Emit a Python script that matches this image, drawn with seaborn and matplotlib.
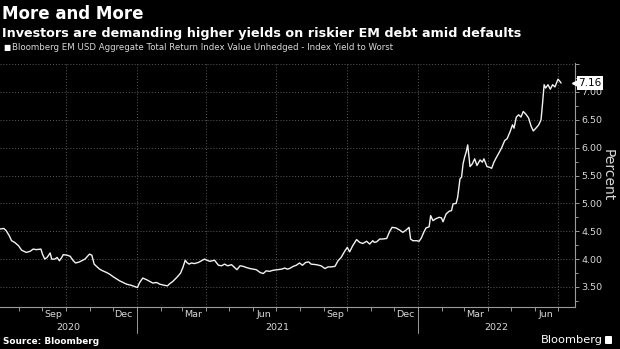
import matplotlib
matplotlib.use("Agg")
import matplotlib.pyplot as plt
import matplotlib.dates as mdates
import matplotlib.transforms as mtransforms
from matplotlib.ticker import MultipleLocator, FuncFormatter, NullFormatter
from matplotlib.patches import FancyBboxPatch
import pandas as pd
import seaborn as sns

# ---- data -----------------------------------------------------------------
dates = [
    "2020-07-08", "2020-07-13", "2020-07-16", "2020-07-20", "2020-07-23", "2020-07-27", "2020-08-01", "2020-08-05", "2020-08-11", "2020-08-16",
    "2020-08-20", "2020-08-24", "2020-08-30", "2020-09-01", "2020-09-04", "2020-09-07", "2020-09-11", "2020-09-13", "2020-09-17", "2020-09-20",
    "2020-09-23", "2020-09-26", "2020-09-28", "2020-10-03", "2020-10-07", "2020-10-11", "2020-10-14", "2020-10-19", "2020-10-26", "2020-11-01",
    "2020-11-04", "2020-11-07", "2020-11-10", "2020-11-14", "2020-11-18", "2020-11-23", "2020-11-27", "2020-12-02", "2020-12-10", "2020-12-19",
    "2020-12-25", "2020-12-31", "2021-01-02", "2021-01-05", "2021-01-09", "2021-01-14", "2021-01-18", "2021-01-22", "2021-01-27", "2021-01-31",
    "2021-02-06", "2021-02-10", "2021-02-13", "2021-02-17", "2021-02-22", "2021-02-27", "2021-03-02", "2021-03-05", "2021-03-07", "2021-03-10",
    "2021-03-13", "2021-03-17", "2021-03-22", "2021-03-26", "2021-03-30", "2021-04-02", "2021-04-06", "2021-04-12", "2021-04-17", "2021-04-21",
    "2021-04-25", "2021-04-29", "2021-05-04", "2021-05-08", "2021-05-11", "2021-05-15", "2021-05-19", "2021-05-23", "2021-05-28", "2021-06-01",
    "2021-06-05", "2021-06-10", "2021-06-14", "2021-06-18", "2021-06-22", "2021-06-27", "2021-07-02", "2021-07-08", "2021-07-12", "2021-07-15",
    "2021-07-18", "2021-07-23", "2021-07-27", "2021-07-31", "2021-08-04", "2021-08-08", "2021-08-12", "2021-08-15", "2021-08-22", "2021-08-28",
    "2021-09-02", "2021-09-06", "2021-09-10", "2021-09-15", "2021-09-19", "2021-09-23", "2021-09-28", "2021-10-01", "2021-10-04", "2021-10-08",
    "2021-10-13", "2021-10-17", "2021-10-21", "2021-10-26", "2021-10-30", "2021-11-03", "2021-11-05", "2021-11-08", "2021-11-12", "2021-11-15",
    "2021-11-21", "2021-11-25", "2021-11-28", "2021-12-03", "2021-12-08", "2021-12-12", "2021-12-16", "2021-12-20", "2021-12-22", "2021-12-25",
    "2021-12-30", "2022-01-02", "2022-01-05", "2022-01-08", "2022-01-11", "2022-01-15", "2022-01-17", "2022-01-20", "2022-01-23", "2022-01-28",
    "2022-01-31", "2022-02-02", "2022-02-06", "2022-02-10", "2022-02-13", "2022-02-15", "2022-02-19", "2022-02-21", "2022-02-24", "2022-02-26",
    "2022-02-28", "2022-03-02", "2022-03-04", "2022-03-06", "2022-03-09", "2022-03-12", "2022-03-15", "2022-03-18", "2022-03-22", "2022-03-25",
    "2022-03-27", "2022-03-31", "2022-04-03", "2022-04-06", "2022-04-09", "2022-04-12", "2022-04-16", "2022-04-19", "2022-04-23", "2022-04-26",
    "2022-04-30", "2022-05-03", "2022-05-05", "2022-05-08", "2022-05-11", "2022-05-14", "2022-05-17", "2022-05-21", "2022-05-24", "2022-05-27",
    "2022-05-30", "2022-06-03", "2022-06-06", "2022-06-09", "2022-06-11", "2022-06-13", "2022-06-15", "2022-06-18", "2022-06-21", "2022-06-24",
    "2022-06-27", "2022-07-01", "2022-07-04", "2022-07-05",
]

yields = [
    4.54, 4.55, 4.51, 4.42, 4.33, 4.30, 4.24, 4.16, 4.12, 4.14,
    4.18, 4.17, 4.18, 4.09, 4.00, 4.03, 4.11, 4.00, 4.00, 4.03,
    3.97, 4.03, 4.08, 4.07, 4.05, 3.97, 3.93, 3.95, 4.00, 4.09,
    4.07, 3.91, 3.87, 3.82, 3.79, 3.76, 3.73, 3.68, 3.61, 3.55,
    3.53, 3.50, 3.49, 3.58, 3.66, 3.63, 3.60, 3.57, 3.58, 3.55,
    3.53, 3.52, 3.56, 3.60, 3.67, 3.75, 3.85, 3.98, 3.94, 3.91,
    3.93, 3.92, 3.94, 3.97, 4.00, 3.98, 3.96, 3.98, 3.89, 3.88,
    3.91, 3.88, 3.90, 3.85, 3.81, 3.88, 3.87, 3.85, 3.83, 3.82,
    3.81, 3.76, 3.74, 3.79, 3.78, 3.80, 3.81, 3.82, 3.84, 3.82,
    3.83, 3.87, 3.89, 3.93, 3.89, 3.94, 3.95, 3.91, 3.90, 3.88,
    3.83, 3.86, 3.86, 3.87, 3.97, 4.03, 4.15, 4.21, 4.13, 4.24,
    4.35, 4.30, 4.28, 4.32, 4.27, 4.33, 4.30, 4.31, 4.36, 4.36,
    4.37, 4.50, 4.57, 4.56, 4.52, 4.48, 4.52, 4.57, 4.36, 4.33,
    4.33, 4.32, 4.38, 4.48, 4.56, 4.58, 4.78, 4.69, 4.72, 4.75,
    4.74, 4.67, 4.81, 4.86, 4.87, 4.99, 5.00, 5.11, 5.44, 5.47,
    5.71, 5.83, 5.92, 6.05, 5.66, 5.71, 5.80, 5.68, 5.78, 5.74,
    5.80, 5.66, 5.65, 5.63, 5.74, 5.82, 5.92, 6.00, 6.13, 6.16,
    6.29, 6.41, 6.35, 6.55, 6.59, 6.55, 6.65, 6.59, 6.53, 6.39,
    6.30, 6.36, 6.41, 6.50, 6.80, 7.13, 7.07, 7.13, 7.05, 7.13,
    7.09, 7.23, 7.18, 7.16,
]

title = "More and More"
subtitle = "Investors are demanding higher yields on riskier EM debt amid defaults"
series_name = "Bloomberg EM USD Aggregate Total Return Index Value Unhedged - Index Yield to Worst"
y_label = "Percent"
source = "Source: Bloomberg"
brand = "Bloomberg"
month_labels = ["2020-09", "2020-12", "2021-03", "2021-06", "2021-09", "2021-12", "2022-03", "2022-06"]
year_labels = ["2020", "2021", "2022"]

# ---- style ----------------------------------------------------------------
BG = "#000000"
LINE = "#f2f2f2"
GRID = "#5c5c5c"
AXIS = "#9a9a9a"
TEXT = "#d8d8d8"

sns.set_theme(style="dark", rc={
    "axes.facecolor": BG,
    "figure.facecolor": BG,
    "savefig.facecolor": BG,
})
plt.rcParams["font.family"] = ["DejaVu Sans"]

df = pd.DataFrame({"date": pd.to_datetime(dates), "yield": yields})

fig = plt.figure(figsize=(6.2, 3.49), dpi=100)
ax = fig.add_axes([0.0, 0.1203, 0.9274, 0.6992])

sns.lineplot(data=df, x="date", y="yield", ax=ax, color=LINE, linewidth=1.0)

x_start = pd.Timestamp("2020-07-08")
x_end = pd.Timestamp("2022-07-23")
ax.set_xlim(x_start, x_end)
ax.set_ylim(3.14, 7.52)
ax.set_xlabel("")
ax.set_ylabel("")

# y axis on the right
ax.yaxis.tick_right()
ax.yaxis.set_major_locator(MultipleLocator(0.5))
ax.yaxis.set_minor_locator(MultipleLocator(0.25))
ax.yaxis.set_major_formatter(FuncFormatter(lambda v, _: f"{v:.2f}" if v < 7.25 else ""))
ax.tick_params(axis="y", which="both", direction="out", left=False, right=True,
               color=AXIS, labelcolor=TEXT, labelsize=6.8, pad=1.5, width=0.7)
ax.tick_params(axis="y", which="major", length=3)
ax.tick_params(axis="y", which="minor", length=2)

# x axis: quarterly grid, monthly ticks, labels written below
ax.xaxis.set_major_locator(mdates.MonthLocator(bymonth=[1, 4, 7, 10]))
ax.xaxis.set_minor_locator(mdates.MonthLocator())
ax.xaxis.set_major_formatter(NullFormatter())
ax.xaxis.set_minor_formatter(NullFormatter())
ax.tick_params(axis="x", which="both", direction="out", bottom=True, length=3,
               color=AXIS, width=0.7)

ax.grid(True, which="major", color=GRID, linestyle=(0, (1, 2)), linewidth=0.7)
ax.grid(False, which="minor")

for side in ("left", "top"):
    ax.spines[side].set_visible(False)
for side in ("bottom", "right"):
    ax.spines[side].set_visible(True)
    ax.spines[side].set_color(AXIS)
    ax.spines[side].set_linewidth(0.8)

xt = mtransforms.blended_transform_factory(ax.transData, ax.transAxes)
for m in month_labels:
    mid = pd.Timestamp(m + "-15")
    ax.text(mid, -0.013, mid.strftime("%b"), transform=xt, ha="center", va="top",
            fontsize=6.8, color=TEXT)

for yl in year_labels:
    lo = max(pd.Timestamp(f"{yl}-01-01"), x_start)
    hi = min(pd.Timestamp(f"{int(yl) + 1}-01-01"), x_end)
    ax.text(lo + (hi - lo) / 2, -0.083, yl, transform=xt, ha="center", va="center",
            fontsize=6.8, color=TEXT)
    if pd.Timestamp(f"{yl}-01-01") > x_start:
        ax.plot([lo, lo], [0, -0.108], transform=xt, color=AXIS, lw=0.7, clip_on=False)

# axis title and last-value tag
ax.text(1.057, 0.541, y_label, transform=ax.transAxes, rotation=270,
        ha="center", va="center", fontsize=10, color=TEXT)

last = yields[-1]
yt = mtransforms.blended_transform_factory(ax.transAxes, ax.transData)
ax.plot([1.0], [last], marker="<", markersize=4, color="white", transform=yt,
        clip_on=False, zorder=5)
ax.text(1.006, last, f"{last:.2f}", transform=yt, ha="left", va="center",
        fontsize=7.5, color="black", zorder=6,
        bbox=dict(boxstyle="square,pad=0.15", fc="white", ec="none"))

# ---- header / footer ------------------------------------------------------
fig.text(0.003, 1 - 19 / 349, title, fontsize=12, weight="bold", color="white", va="baseline")
fig.text(0.003, 1 - 37 / 349, subtitle, fontsize=9.2, weight="bold", color="white", va="baseline")
fig.text(0.006, 1 - 47.5 / 349, "\u25a0", fontsize=5.5, color="white", va="center")
fig.text(0.019, 1 - 47.5 / 349, series_name, fontsize=6.2, color=TEXT, va="center")

fig.text(0.005, 1 - 341 / 349, source, fontsize=6.4, weight="bold", color="white", va="center")
fig.text(541 / 620, 1 - 340 / 349, brand, fontsize=8.2, color="white", va="center")
fig.add_artist(FancyBboxPatch((605 / 620, 1 - 344 / 349), 7 / 620, 8 / 349,
                              boxstyle="round,pad=0,rounding_size=0.002",
                              transform=fig.transFigure, fc="white", ec="none"))

fig.savefig("out.png", dpi=100, facecolor=BG)
